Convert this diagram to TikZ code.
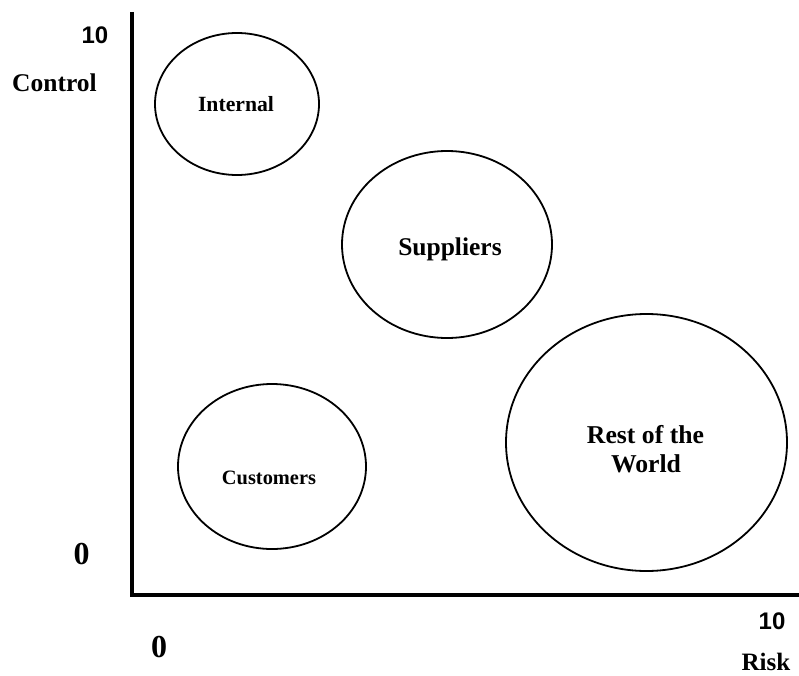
\documentclass[tikz,border=0pt]{standalone}
\usepackage{fontspec}
\setmainfont{Liberation Serif}
\newfontfamily\arialfont{Liberation Sans}
\usetikzlibrary{shapes.geometric}
\tikzset{
  bubble/.style={draw=black, line width=1.8pt, ellipse, inner sep=0pt},
  axisline/.style={draw=black, line width=3.4pt, line join=miter},
  lbl/.style={anchor=base, inner sep=0pt, font=\bfseries},
}
\newcommand{\fsz}[1]{\fontsize{#1}{1.1\dimexpr#1pt\relax}\selectfont}
\begin{document}
\begin{tikzpicture}[x=1pt, y=-1pt]
\useasboundingbox (0,0) rectangle (799,676);
% axes
\coordinate (ytop) at (132,12);
\coordinate (origin) at (132,595);
\coordinate (xend) at (799,595);
\draw[axisline] (ytop) -- (origin) -- (xend);
% bubbles
\node[bubble, minimum width=164pt, minimum height=142pt] (internal) at (237,104) {};
\node[bubble, minimum width=210pt, minimum height=187pt] (suppliers) at (447,244.5) {};
\node[bubble, minimum width=188pt, minimum height=165pt] (customers) at (272,466.5) {};
\node[bubble, minimum width=281pt, minimum height=257pt] (rest) at (646.5,442.5) {};
% bubble texts
\node[lbl] (tinternal) at (236,112) {\fsz{21.7}Internal};
\node[lbl] (tsuppliers) at (450,255) {\fsz{25.5}Suppliers};
\node[lbl] (tcustomers) at (269,484) {\fsz{20.4}Customers};
\node[lbl] (trest1) at (645.5,443) {\fsz{25.7}Rest of the};
\node[lbl] (trest2) at (646,472) {\fsz{25.7}World};
% axis labels
\node[lbl] (ymax) at (95,44) {\arialfont\fsz{24}10};
\node[lbl] (ylabel) at (54.5,92) {\fsz{25.5}Control};
\node[lbl] (ymin) at (81.5,564) {\fsz{32}0};
\node[lbl] (xmin) at (159,657) {\fsz{32}0};
\node[lbl] (xmax) at (772,629) {\arialfont\fsz{24}10};
\node[lbl] (xlabel) at (766,670) {\fsz{25}Risk};
\end{tikzpicture}
\end{document}
